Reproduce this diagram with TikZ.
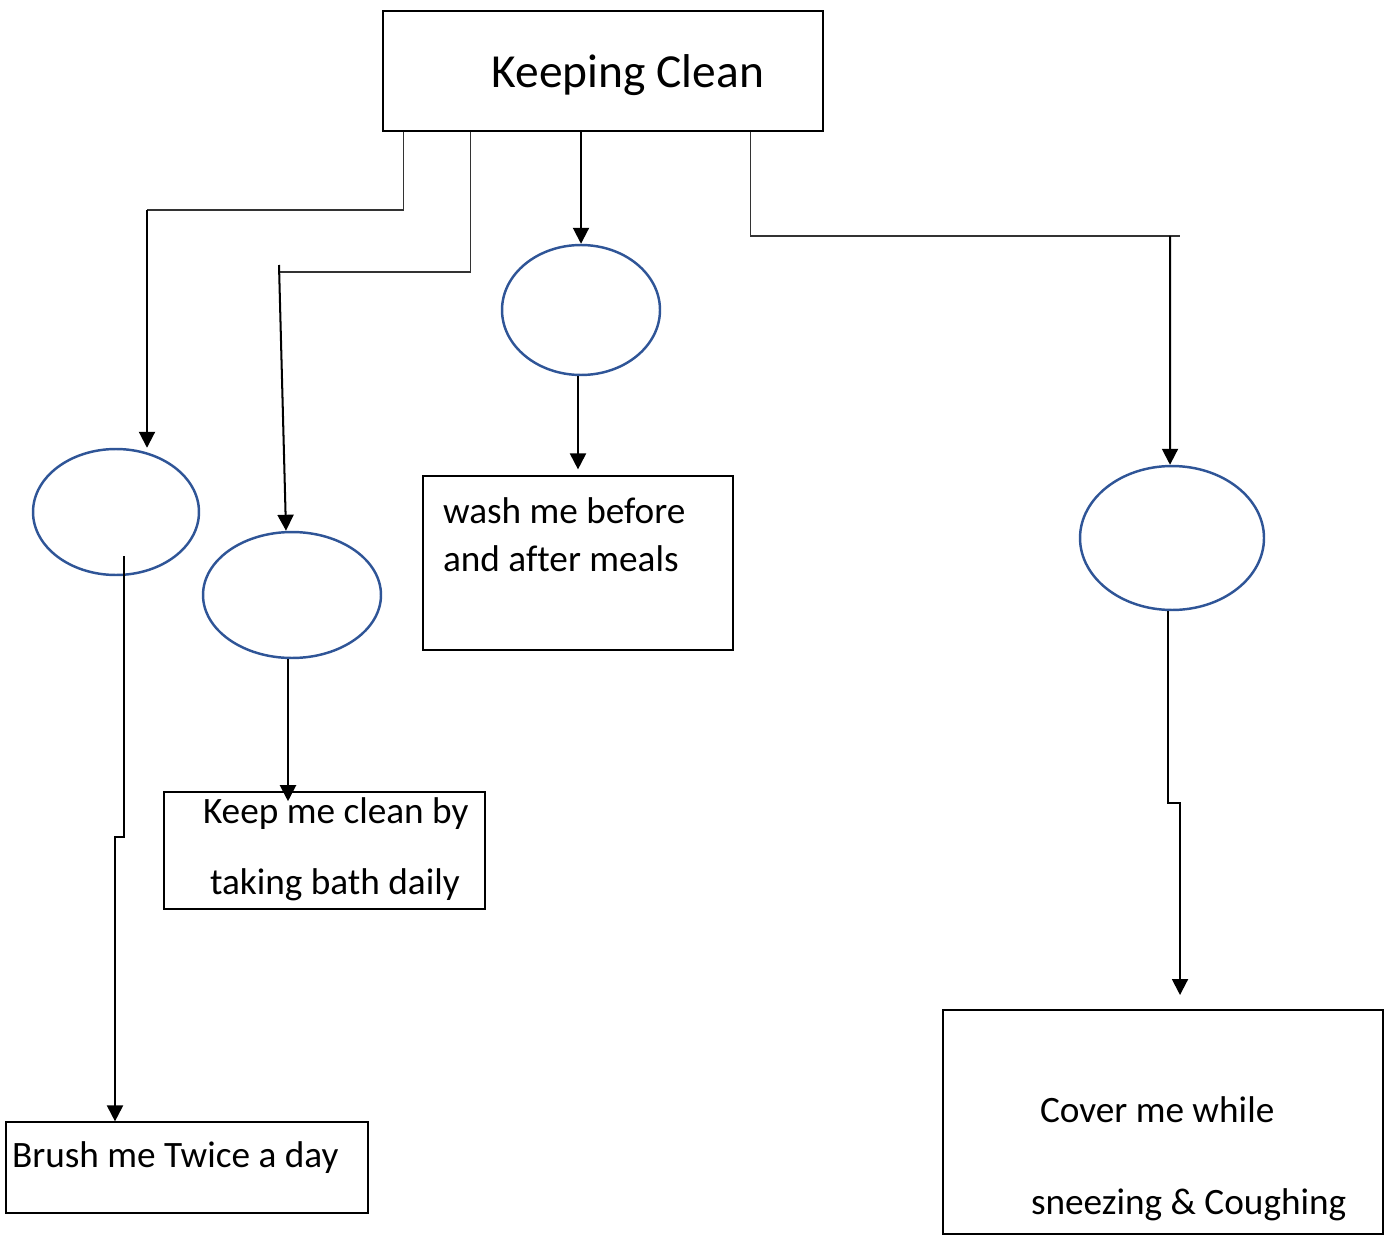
\documentclass[tikz,border=0pt]{standalone}
\usepackage{fontspec}
\setmainfont{Carlito}[Ligatures=NoCommon]
\usetikzlibrary{shapes.geometric,arrows.meta}
\definecolor{ovalblue}{HTML}{2F5597}

\begin{document}
\begin{tikzpicture}[x=0.02cm, y=-0.02cm, >={Triangle[width=0.32cm,length=0.32cm]},
  box/.style={draw, line width=0.7pt, inner sep=0pt, align=flush left, font=\fontsize{21.2}{26}\selectfont,
    execute at begin node={\spaceskip=0pt\xspaceskip=0pt\relax}},
  oval/.style={draw=ovalblue, line width=1.4pt, ellipse, inner sep=0pt},
  link/.style={draw=black!80, line width=0.8pt},
  arr/.style={->, line width=1.15pt}]
\useasboundingbox (0,0) rectangle (1391,1236);
\node[box, minimum width=8.8cm, minimum height=2.4cm, text depth=0pt, font=\fontsize{27}{32}\selectfont] (title) at (603,71) {\hspace*{1cm}Keeping Clean};
\node[oval, minimum width=3.32cm, minimum height=2.52cm] (e1) at (116,512) {};
\node[oval, minimum width=3.56cm, minimum height=2.52cm] (e2) at (292,595) {};
\node[oval, minimum width=3.16cm, minimum height=2.6cm] (e3) at (581,310) {};
\node[oval, minimum width=3.68cm, minimum height=2.88cm] (e4) at (1172,538) {};
\node[box, text width=7.24cm, minimum height=1.82cm, text height=0.5cm, text depth=0.5cm] (brush) at (187,1167.5) {\hspace*{0.12cm}Brush me Twice a day};
\node[box, text width=6.42cm, minimum height=2.34cm, text height=0.5cm, text depth=1.6cm] (keep) at (324.5,850.5) {\hspace*{0.78cm}Keep me clean by\\[0.52cm]\hspace*{0.92cm}taking bath daily};
\node[box, text width=6.2cm, minimum height=3.48cm, text height=0.5cm, text depth=2.1cm] (wash) at (578,563) {\hspace*{0.4cm}wash me before\\[0.06cm]\hspace*{0.4cm}and after meals};
\node[box, text width=8.8cm, minimum height=4.48cm, text height=1cm, text depth=1cm] (cover) at (1163,1122) {\hspace*{1.94cm}Cover me while\\[0.94cm]\hspace*{1.76cm}sneezing \& Coughing};
% elbows under the title
\draw[link] ([xshift=0.42cm]title.south west) |- (147,210) coordinate (c1);
\draw[link] ([xshift=1.76cm]title.south west) |- (279,272) coordinate (c2);
\draw[link] ([xshift=7.36cm]title.south west) |- (1180,236) coordinate (c4);
\coordinate (j1) at (115,837);
\coordinate (j4) at (1180,803);
\draw[arr] (c1) -- (c1 |- e1.north);
\draw[arr] ([yshift=0.14cm]c2) -- ([xshift=-0.12cm]e2.north);
\draw[arr] (e3.north |- title.south) -- (e3.north);
\draw[arr] ([xshift=-0.2cm]c4) -- ([xshift=-0.04cm]e4.north);
\draw[arr] ([xshift=0.16cm,yshift=0.4cm]e1.south) |- (j1) -- (j1 |- brush.north);
\draw[arr] ([xshift=-0.08cm]e2.south) -- ++(0,142);
\draw[arr] (e3.south -| wash.north) -- ([yshift=0.12cm]wash.north);
\draw[arr] ([xshift=-0.08cm]e4.south) |- (j4) -- ++(0,192);
\end{tikzpicture}
\end{document}
